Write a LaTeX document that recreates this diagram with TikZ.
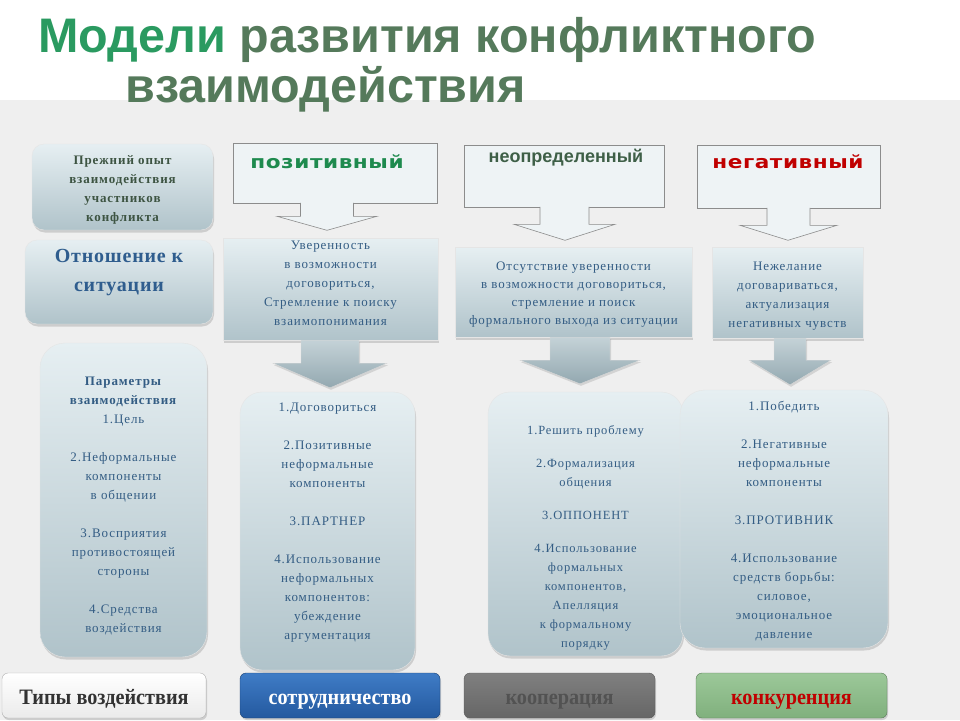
\documentclass[tikz,border=0pt]{standalone}
\usepackage{fontspec}
\setmainfont{Liberation Serif}
\newfontfamily\bodyfont[LetterSpace=7]{Liberation Serif}
\newfontfamily\attfont[LetterSpace=4]{Liberation Serif}
\newfontfamily\headfont{Liberation Sans}
\newfontfamily\kindfont[FakeStretch=1.2,LetterSpace=3]{DejaVu Sans}
\newfontfamily\uncfont{Liberation Sans}
\newfontfamily\btnfont[FakeStretch=0.92]{Liberation Serif}
\usepackage{xcolor}
\usepackage{tikz}
\usetikzlibrary{positioning,calc,backgrounds,shadows}

\definecolor{titlegreen}{HTML}{2A9A60}
\definecolor{titlegray}{HTML}{557A5B}
\definecolor{bodyblue}{HTML}{345D84}
\definecolor{prevtext}{HTML}{3D5442}
\definecolor{atttext}{HTML}{2F5D8E}
\definecolor{posgreen}{HTML}{1E8A4E}
\definecolor{uncgreen}{HTML}{3E5F47}
\definecolor{negred}{HTML}{C00000}
\definecolor{callfill}{HTML}{EEF3F5}
\definecolor{calldraw}{HTML}{8C8C8C}
\definecolor{boxtop}{HTML}{E6EFF2}
\definecolor{boxbot}{HTML}{B0C3CA}
\definecolor{arrowtop}{HTML}{C4D2D7}
\definecolor{arrowbot}{HTML}{93A8B0}
\definecolor{pagebg}{HTML}{EFEFEF}
\definecolor{cooptop}{HTML}{3F7CC6}
\definecolor{coopbot}{HTML}{24599F}
\definecolor{comptop}{HTML}{9CC899}
\definecolor{compbot}{HTML}{80B07D}

\begin{document}
\begin{tikzpicture}[
        x=1pt, y=-1pt,
        % 文字样式定义
        titletext/.style={font=\headfont\bfseries\fontsize{48.5}{48}\selectfont, text=titlegray, inner sep=0pt, anchor=base west},
        bodytext/.style={font=\bodyfont\fontsize{13}{19}\selectfont, text=bodyblue, align=center, inner sep=0pt},
        kindtext/.style={font=\kindfont\bfseries\fontsize{18}{18}\selectfont, inner sep=0pt},
        % 方框样式定义
        shade/.style={top color=boxtop, bottom color=boxbot, draw=white!80!gray, line width=0.4pt,
            drop shadow={shadow xshift=1pt, shadow yshift=-2.5pt, opacity=0.3}},
        roundbox/.style={shade, rounded corners=22pt},
        leftbox/.style={shade, rounded corners=12pt},
        textbox/.style={shade},
        callbox/.style={fill=callfill, draw=calldraw, line width=0.6pt},
        % 箭头样式定义
        callarrow/.style={fill=callfill, draw=calldraw, line width=0.6pt},
        bigarrow/.style={top color=arrowtop, bottom color=arrowbot, draw=white!70!gray, line width=0.4pt,
            drop shadow={shadow xshift=1pt, shadow yshift=-2pt, opacity=0.25}},
        % 底部按钮样式
        button/.style={rounded corners=6pt, minimum height=45pt, inner sep=0pt, text height=22pt, text depth=4pt,
            font=\btnfont\bfseries\fontsize{22}{22}\selectfont,
            drop shadow={shadow xshift=1pt, shadow yshift=-2pt, opacity=0.3}}
    ]

    \useasboundingbox (0,0) rectangle (960,720);

    % 背景
    \begin{pgfonlayer}{background}
        \fill[white] (0,0) rectangle (960,100);
        \fill[pagebg] (0,100) rectangle (960,720);
    \end{pgfonlayer}

    % 标题
    \node[titletext] (title1) at (38,52) {\textcolor{titlegreen}{Модели} развития конфликтного};
    \node[titletext] (title2) at (125,102) {взаимодействия};

    % 左侧一列
    \node[leftbox, minimum width=181pt, minimum height=86pt] (lPrev) at (122.5,187) {};
    \node[bodytext, font=\bodyfont\bfseries\fontsize{13}{19}\selectfont, text=prevtext]
        (lPrevText) at (122.5,190) {Прежний опыт\\взаимодействия\\участников\\конфликта};
    \node[leftbox, minimum width=188pt, minimum height=84pt] (lAtt) at (119,282) {};
    \node[bodytext, font=\attfont\bfseries\fontsize{20}{29}\selectfont, text=atttext]
        (lAttText) at (119,273) {Отношение к\\ситуации};
    \node[roundbox, rounded corners=25pt, minimum width=167pt, minimum height=314pt] (lPar) at (123.5,500) {};
    \node[bodytext] (lParText) at (123.5,506)
        {\textbf{Параметры}\\\textbf{взаимодействия}\\1.Цель\\[19pt]2.Неформальные\\компоненты\\в общении\\[19pt]3.Восприятия\\противостоящей\\стороны\\[19pt]4.Средства\\воздействия};

    % 三种模型的标注框
    \node[callbox, minimum width=204pt, minimum height=60pt] (cPos) at (335,173) {};
    \path[callarrow] ($(cPos.south)+(-34.5,-0.4)$) -- ++(0,13.4) -- ++(-23.5,0) -- ($(cPos.south)+(-8,27)$)
        -- ($(cPos.south)+(42,13)$) -- ++(-23.5,0) -- ++(0,-13.4);
    \node[kindtext, text=posgreen] (cPosText) at (327,162) {позитивный};

    \node[callbox, minimum width=200pt, minimum height=62pt] (cUnc) at (564,176) {};
    \path[callarrow] ($(cUnc.south)+(-24,-0.4)$) -- ++(0,17.4) -- ++(-26,0) -- ($(cUnc.south)+(1,33)$)
        -- ($(cUnc.south)+(51,17)$) -- ++(-26,0) -- ++(0,-17.4);
    \node[font=\uncfont\bfseries\fontsize{18}{18}\selectfont, text=uncgreen, inner sep=0pt]
        (cUncText) at (566,158) {неопределенный};

    \node[callbox, minimum width=183pt, minimum height=63pt] (cNeg) at (788.5,176.5) {};
    \path[callarrow] ($(cNeg.south)+(-21.5,-0.4)$) -- ++(0,17.4) -- ++(-27,0) -- ($(cNeg.south)+(-0.5,32)$)
        -- ($(cNeg.south)+(48.5,17)$) -- ++(-27,0) -- ++(0,-17.4);
    \node[kindtext, text=negred] (cNegText) at (788,162) {негативный};

    % 态度说明框
    \node[textbox, minimum width=215pt, minimum height=102pt] (tPos) at (330.5,289) {};
    \node[bodytext] (tPosText) at (330.5,283) {Уверенность\\в возможности\\договориться,\\Стремление к поиску\\взаимопонимания};
    \node[textbox, minimum width=237pt, minimum height=90pt] (tUnc) at (573.5,292) {};
    \node[bodytext, font=\bodyfont\fontsize{13}{18}\selectfont] (tUncText) at (573.5,295)
        {Отсутствие уверенности\\в возможности договориться,\\стремление и поиск\\формального выхода из ситуации};
    \node[textbox, minimum width=151pt, minimum height=91pt] (tNeg) at (787.5,292.5) {};
    \node[bodytext] (tNegText) at (787.5,296.5)
        {Нежелание\\договариваться,\\актуализация\\негативных чувств};

    % 参数框
    \node[roundbox, minimum width=175pt, minimum height=278pt] (rPos) at (327.5,531) {};
    \node[bodytext] (rPosText) at (327.5,523) {1.Договориться\\[19pt]2.Позитивные\\неформальные\\компоненты\\[19pt]3.ПАРТНЕР\\[19pt]4.Использование\\неформальных\\компонентов:\\убеждение\\аргументация};
    \node[roundbox, minimum width=195pt, minimum height=264pt] (rUnc) at (585.5,524) {};
    \node[bodytext, font=\bodyfont\fontsize{12.5}{19}\selectfont] (rUncText) at (585.5,538) {1.Решить проблему\\[14pt]2.Формализация\\общения\\[14pt]3.ОППОНЕНТ\\[14pt]4.Использование\\формальных\\компонентов,\\Апелляция\\к формальному\\порядку};
    \node[roundbox, rounded corners=25pt, minimum width=208pt, minimum height=258pt] (rNeg) at (784,519) {};
    \node[bodytext] (rNegText) at (784,521)
        {1.Победить\\[19pt]2.Негативные\\неформальные\\компоненты\\[19pt]3.ПРОТИВНИК\\[19pt]4.Использование\\средств борьбы:\\силовое,\\эмоциональное\\давление};

    % 大箭头
    \path[bigarrow] ($(tPos.south)+(-29.5,0)$) -- ++(0,23) -- ++(-28,0) -- ($(rPos.north)+(2.5,-4)$)
        -- ($(tPos.south)+(56.5,23)$) -- ++(-28,0) -- ++(0,-23) -- cycle;
    \path[bigarrow] ($(tUnc.south)+(-23.5,0)$) -- ++(0,23) -- ++(-30,0) -- ($(rUnc.north)+(-5.5,-8)$)
        -- ($(tUnc.south)+(66.5,23)$) -- ++(-30,0) -- ++(0,-23) -- cycle;
    \path[bigarrow] ($(tNeg.south)+(-13.5,0)$) -- ++(0,22) -- ++(-25,0) -- ($(rNeg.north)+(6,-5)$)
        -- ($(tNeg.south)+(43.5,22)$) -- ++(-25,0) -- ++(0,-22) -- cycle;

    % 底部按钮
    \node[button, minimum width=204pt, top color=white, bottom color=black!8, draw=black!30, text=black!80]
        (bTypes) at (104,695.5) {Типы воздействия};
    \node[button, minimum width=200pt, top color=cooptop, bottom color=coopbot, draw=coopbot!70!black, text=white]
        (bCoop) at (340,695.5) {сотрудничество};
    \node[button, minimum width=191pt, top color=black!50, bottom color=black!60, draw=black!65, text=black!68]
        (bCoopF) at (559.5,695.5) {кооперация};
    \node[button, minimum width=191pt, top color=comptop, bottom color=compbot, draw=compbot!70!black, text=negred]
        (bComp) at (791.5,695.5) {конкуренция};

\end{tikzpicture}
\end{document}
